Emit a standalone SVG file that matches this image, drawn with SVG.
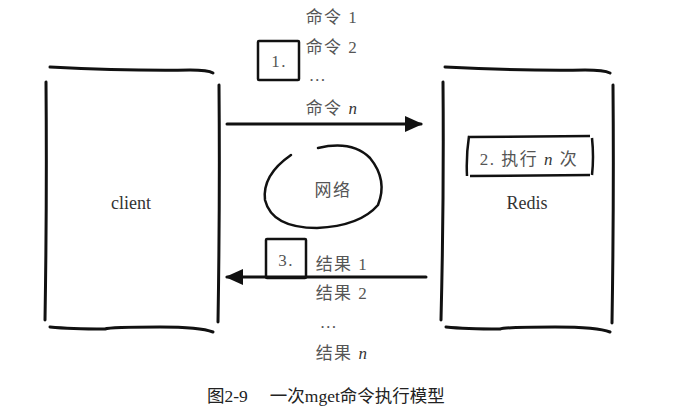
<svg xmlns="http://www.w3.org/2000/svg" width="677" height="412" viewBox="0 0 677 412">
<style>
.ln{fill:none;stroke:#111;stroke-width:3;stroke-linecap:round;stroke-linejoin:round}
.bx{fill:none;stroke:#111;stroke-width:2.5;stroke-linejoin:round}
.t{font-family:"Liberation Serif","Noto Sans CJK SC",serif;font-size:17px;fill:#555;text-anchor:middle;letter-spacing:1.5px}
.nm{font-family:"Liberation Serif",serif;font-size:18px;fill:#333;text-anchor:middle}
.n{font-style:italic;fill:#333}
.cap{font-family:"Liberation Serif","Noto Sans CJK SC",serif;font-size:17.5px;fill:#222}
</style>
<defs>
<marker id="ah" viewBox="0 0 10 10" refX="9" refY="5" markerWidth="6" markerHeight="6" markerUnits="strokeWidth" orient="auto">
<path d="M0,0.5 L10,5 L0,9.5 Z" fill="#111"/>
</marker>
</defs>
<g id="client">
<path class="ln" d="M50,67 Q130,71 190,70 Q208,70 213,73"/>
<path class="ln" d="M46,82 Q47,200 45,320"/>
<path class="ln" d="M219,85 Q220,200 218,322"/>
<path class="ln" d="M50,327 Q70,329 105,329 Q110,327 160,327 Q200,327 213,332"/>
<text class="nm" x="131" y="209">client</text>
</g>
<g id="redis">
<path class="ln" d="M445,67 Q525,71 585,70 Q604,70 610,73"/>
<path class="ln" d="M443,82 Q444,200 441,320"/>
<path class="ln" d="M613,85 Q614,200 612,323"/>
<path class="ln" d="M446,327 Q465,329 500,329 Q505,327 555,327 Q598,327 610,332"/>
<text class="nm" x="527" y="209">Redis</text>
</g>
<g id="exec">
<path class="bx" d="M468,137 L590,136 M469,136 Q466,156 467,176 M592,138 Q594,157 592,175 M470,176 L590,175"/>
<text class="t" x="529" y="165">2. 执行 <tspan class="n">n</tspan> 次</text>
</g>
<g id="network">
<path class="ln" style="stroke-width:2.5" d="M291,155 Q262,175 265,200 Q272,228 317,228 Q360,226 378,205 Q388,180 370,158 Q352,140 318,148"/>
<text class="t" x="333" y="196">网络</text>
</g>
<g id="step1">
<rect class="bx" x="258" y="41" width="41" height="39" rx="1"/>
<text class="t" x="279" y="67">1.</text>
</g>
<g id="step3">
<rect class="bx" x="266" y="239" width="40" height="39" rx="1"/>
<text class="t" x="286" y="266">3.</text>
</g>
<g id="commands">
<text class="t" x="332" y="23">命令 1</text>
<text class="t" x="332" y="53">命令 2</text>
<text class="t" x="318" y="81">…</text>
<text class="t" x="332" y="114">命令 <tspan class="n">n</tspan></text>
</g>
<g id="results">
<text class="t" x="342" y="270">结果 1</text>
<text class="t" x="342" y="299">结果 2</text>
<text class="t" x="329" y="328">…</text>
<text class="t" x="342" y="359">结果 <tspan class="n">n</tspan></text>
</g>
<g id="connectors">
<path class="ln" d="M227,124 L421,124" marker-end="url(#ah)"/>
<path class="ln" d="M426,277 L227,277" marker-end="url(#ah)"/>
</g>
<g id="caption">
<text class="cap" x="207" y="402">图2-9<tspan dx="22">一次mget命令执行模型</tspan></text>
</g>
</svg>
